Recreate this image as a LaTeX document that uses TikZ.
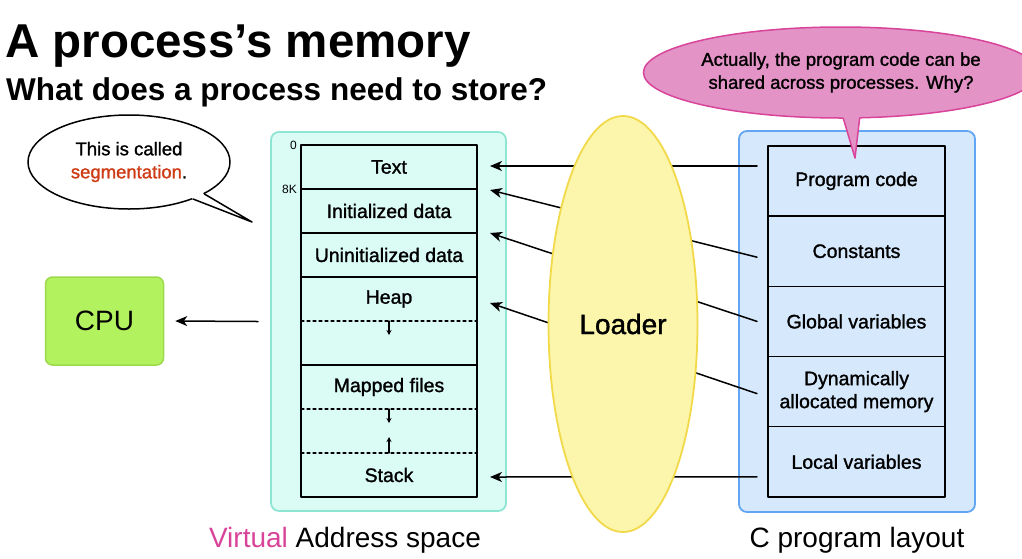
\documentclass[tikz,border=0pt]{standalone}
\usepackage{fontspec}
\setmainfont{Liberation Sans}
\newfontfamily\medfont[FakeBold=1.3]{Liberation Sans}
\usetikzlibrary{positioning,shapes.geometric,arrows.meta,calc}
\definecolor{memfill}{HTML}{DBFBF5}
\definecolor{memline}{HTML}{8EE5D3}
\definecolor{cfill}{HTML}{D6E9FC}
\definecolor{cline}{HTML}{62A5F2}
\definecolor{cpufill}{HTML}{B3F25F}
\definecolor{cpuline}{HTML}{9CDA4C}
\definecolor{loadfill}{HTML}{FBF6AB}
\definecolor{loadline}{HTML}{F2D94A}
\definecolor{pinkfill}{HTML}{E393C6}
\definecolor{pinkline}{HTML}{D8449A}
\definecolor{segred}{HTML}{CF3B14}
\begin{document}
\begin{tikzpicture}[x=1pt, y=-1pt, line join=round, line cap=round,
  >={Stealth[length=12pt,width=10pt,inset=3.5pt]},
  txt/.style={font=\medfont\fontsize{19.5}{23}\selectfont},
  notetxt/.style={font=\medfont\fontsize{18.5}{23}\selectfont},
  big/.style={font=\fontsize{28}{32}\selectfont},
  cell/.style={minimum width=176pt, minimum height=44pt, inner sep=0pt, outer sep=0pt, txt},
  crow/.style={draw, line width=1.4pt, minimum width=177pt, minimum height=70.2pt, inner sep=0pt, outer sep=0pt, align=center, txt},
  box/.style={rounded corners=8pt, line width=1.8pt, inner sep=0pt, outer sep=0pt},
  conn/.style={->, line width=1.5pt},
  growarrow/.style={-{Stealth[length=5pt,width=5pt]}, line width=1.2pt},
  note/.style={ellipse, line width=1.5pt, inner sep=0pt, align=center, notetxt}]
\useasboundingbox (0,0) rectangle (1022,558);
% titles
\node[anchor=base west, inner sep=0pt, font=\fontsize{47.5}{50}\selectfont\bfseries] (title) at (5,57) {A process’s memory};
\node[anchor=base west, inner sep=0pt, font=\fontsize{31.5}{34}\selectfont\bfseries] (subtitle) at (6,100) {What does a process need to store?};

% the two boxes
\node[box, draw=memline, fill=memfill, minimum width=235pt, minimum height=379pt] (vas) at (388.5,321.5) {};
\node[box, draw=cline, fill=cfill, minimum width=236pt, minimum height=381pt] (cprog) at (857,321.5) {};

% virtual address space
\node[cell] (textrow) at (389,167) {Text};
\node[cell, below=0pt of textrow] (initrow) {Initialized data};
\node[cell, below=0pt of initrow] (uninitrow) {Uninitialized data};
\node[cell, below=0pt of uninitrow] (heaprow) {Heap};
\node[cell, below=0pt of heaprow] (heapgap) {};
\node[cell, below=0pt of heapgap] (maprow) {Mapped files};
\node[cell, below=0pt of maprow] (mapgap) {};
\node[cell, below=0pt of mapgap] (stackrow) {Stack};
\draw[line width=1.4pt] (textrow.north west) rectangle (stackrow.south east);
\foreach \r in {textrow,initrow,uninitrow,heapgap}
  \draw[line width=1.4pt] (\r.south west) -- (\r.south east);
\foreach \r in {heaprow,maprow,mapgap}
  \draw[dashed, line width=1.2pt] (\r.south west) -- (\r.south east);
\draw[growarrow] (heaprow.south) -- ++(0,14);
\draw[growarrow] (maprow.south) -- ++(0,14);
\draw[growarrow] (stackrow.north) -- ++(0,-16);
\node[anchor=east, font=\fontsize{12}{14}\selectfont, inner sep=1pt] (zero) at ([xshift=-3pt]textrow.north west) {0};
\node[anchor=east, font=\fontsize{12}{14}\selectfont, inner sep=1pt] (eightk) at ([xshift=-3pt]textrow.south west) {8K};

% C program layout
\node[crow] (code) at (856.5,181) {Program code};
\node[crow, below=0pt of code] (consts) {Constants};
\node[crow, below=0pt of consts] (globals) {Global variables};
\node[crow, below=0pt of globals] (dynmem) {Dynamically\\allocated memory};
\node[crow, below=0pt of dynmem] (locals) {Local variables};

% loading
\draw[conn] ([xshift=-11pt,yshift=15pt]code.west) -- ([xshift=13pt,yshift=1pt]textrow.east);
\draw[conn] ([xshift=-11pt,yshift=-6pt]consts.west) -- ([xshift=13pt,yshift=-1pt]textrow.south east);
\draw[conn] ([xshift=-11pt]globals.west) -- ([xshift=13pt]initrow.south east);
\draw[conn] ([xshift=-11pt,yshift=-2pt]dynmem.west) -- ([xshift=13pt,yshift=-4pt]heaprow.east);
\draw[conn] ([xshift=-11pt,yshift=-15pt]locals.west) -- ([xshift=13pt,yshift=-2pt]stackrow.east);
\node[ellipse, draw=loadline, fill=loadfill, line width=1.8pt, minimum width=149pt, minimum height=416pt, inner sep=0pt, font=\medfont\fontsize{28}{32}\selectfont] (loader) at (623,324) {Loader};

% cpu
\node[draw=cpuline, fill=cpufill, rounded corners=7pt, line width=1.5pt, minimum width=118pt, minimum height=88pt, big] (cpu) at (104.5,321) {CPU};
\draw[conn] ([xshift=-13pt]vas.west) -- ([xshift=11pt]cpu.east);

% notes
\node[note, draw, fill=white, minimum width=202pt, minimum height=94pt] (segnote) at (129,162) {This is called\\\textcolor{segred}{segmentation}.};
\coordinate (segtip) at (252,222);
\fill[white] (segnote.-30) -- (segtip) -- (segnote.-23) -- ($(segnote.-23)!.15!(segnote.center)$) -- ($(segnote.-30)!.15!(segnote.center)$) -- cycle;
\draw[line width=1.5pt] (segnote.-30) -- (segtip) -- (segnote.-23);

\node[note, draw=pinkline, fill=pinkfill, minimum width=352pt, minimum height=91pt] (sharenote) at (841,72.5) {Actually, the program code can be\\shared across processes. Why?};
\coordinate (sharetip) at (855,158);
\fill[pinkfill] (sharenote.-87) -- (sharetip) -- (sharenote.-68) -- ($(sharenote.-68)!.15!(sharenote.center)$) -- ($(sharenote.-87)!.15!(sharenote.center)$) -- cycle;
\draw[pinkline, line width=1.5pt] (sharenote.-87) -- (sharetip) -- (sharenote.-68);

% captions
\node[anchor=base, big] (vascap) at (345,547) {\textcolor{pinkline}{Virtual} Address space};
\node[anchor=base, big] (ccap) at (857,547) {C program layout};
\end{tikzpicture}
\end{document}
